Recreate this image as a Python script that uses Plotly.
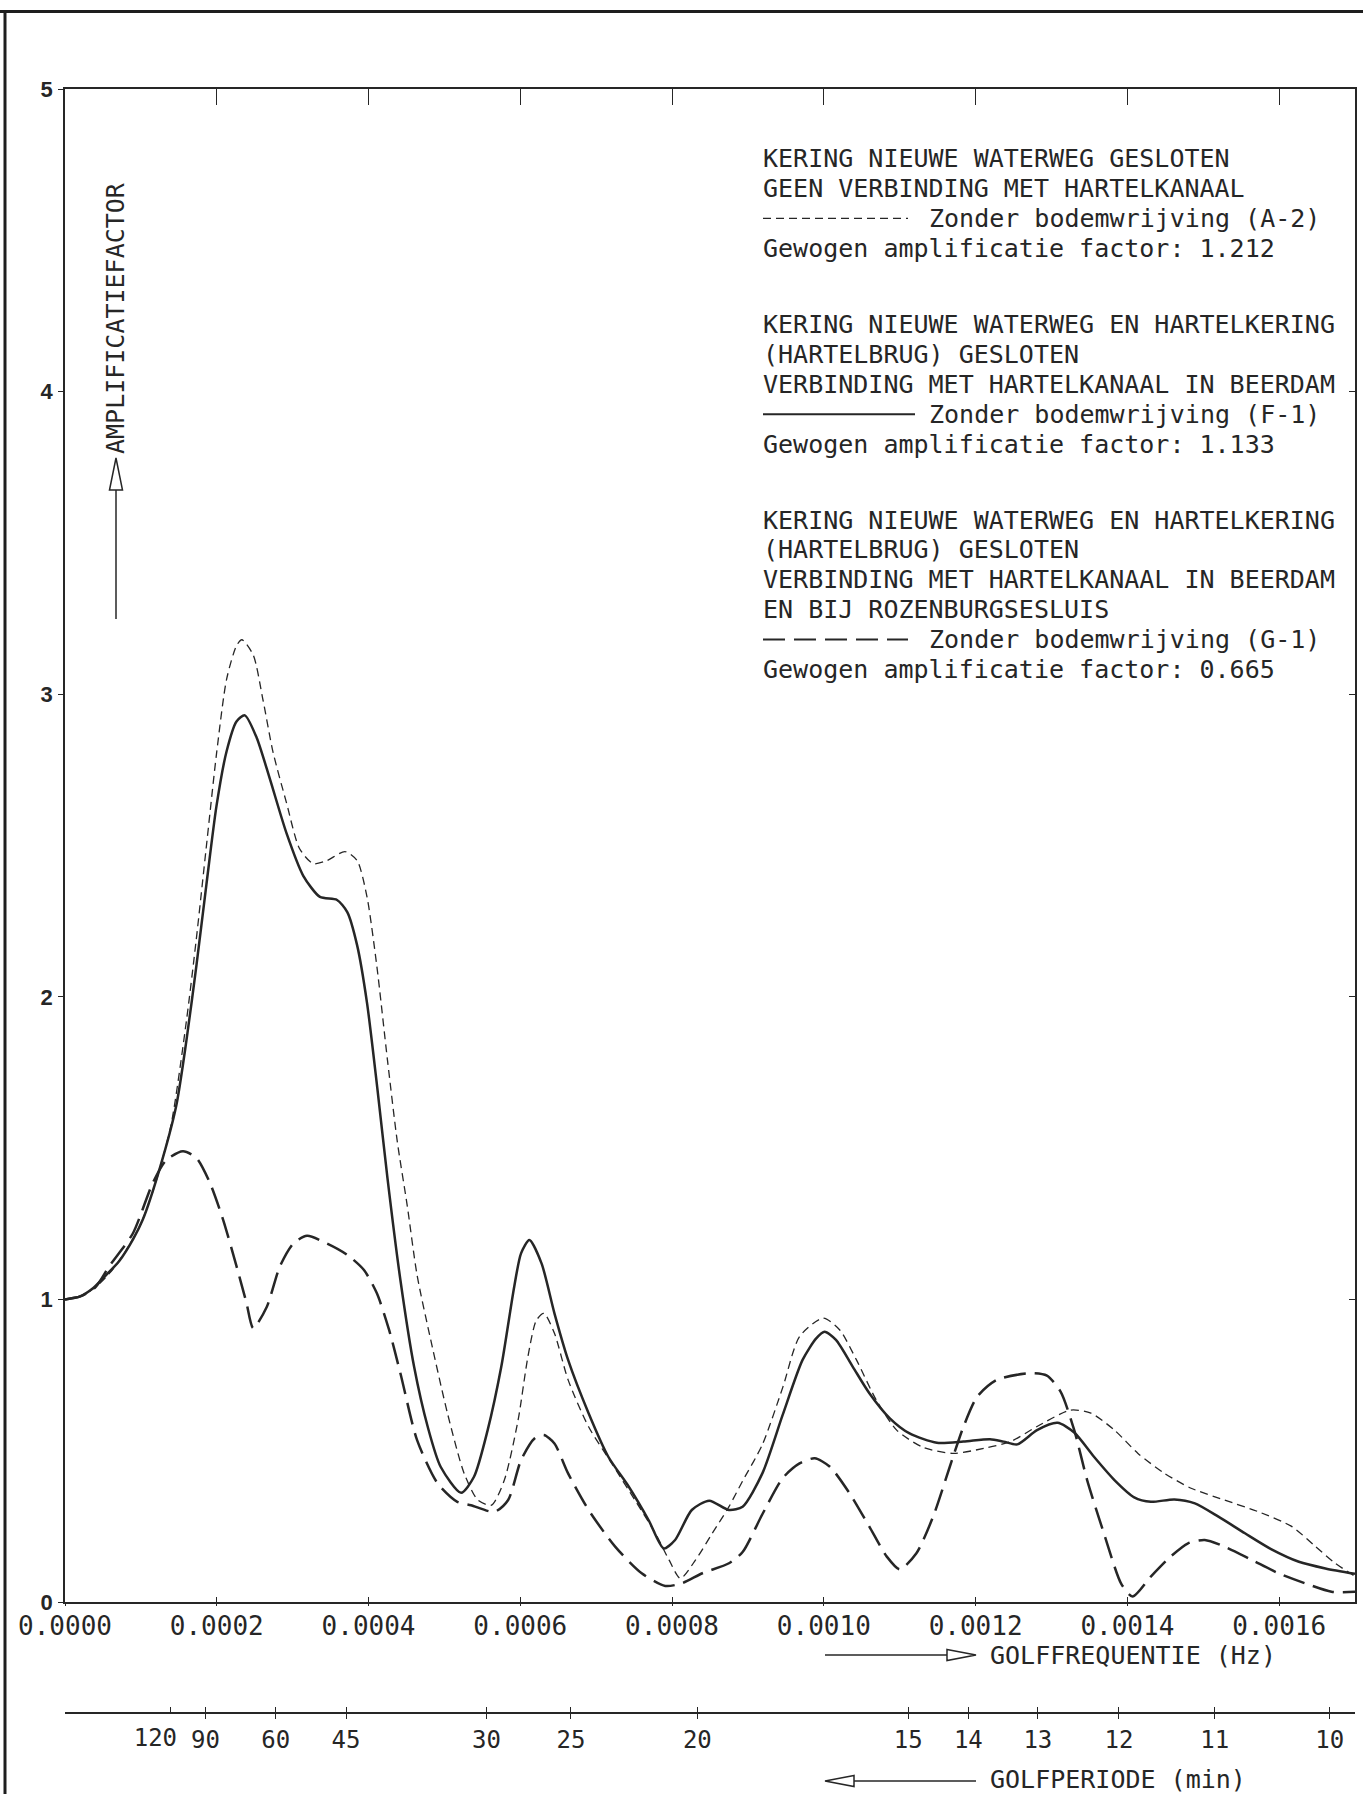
import plotly.graph_objects as go

# ---------------- data ----------------
FREQ_A2 = [0, 0.00002, 0.00004, 0.00006, 0.00008, 0.0001, 0.00012, 0.00014, 0.00016, 0.000173,
           0.000186, 0.0002, 0.000213, 0.000226, 0.000233, 0.000248, 0.000261, 0.000274, 0.000292,
           0.000309, 0.000327, 0.000345, 0.000369, 0.000385, 0.000398, 0.000411, 0.000425, 0.000438,
           0.000451, 0.000464, 0.000482, 0.000504, 0.000526, 0.000544, 0.000562, 0.000579, 0.000597,
           0.00061, 0.000621, 0.000631, 0.000645, 0.000663, 0.00069, 0.00072, 0.000751, 0.000778,
           0.000796, 0.000811, 0.000831, 0.000853, 0.000875, 0.000893, 0.000919, 0.000946, 0.000968,
           0.000999, 0.001021, 0.001043, 0.001069, 0.001096, 0.001131, 0.001171, 0.001211, 0.001246,
           0.001281, 0.001325, 0.001352, 0.001383, 0.001414, 0.001449, 0.001484, 0.001528, 0.001573,
           0.001617, 0.001648, 0.001674, 0.0017]
AMP_A2 = [1.0, 1.01, 1.04, 1.09, 1.16, 1.25, 1.39, 1.58, 1.92, 2.19,
          2.49, 2.81, 3.05, 3.16, 3.18, 3.13, 2.98, 2.81, 2.64,
          2.49, 2.44, 2.45, 2.48, 2.45, 2.33, 2.10, 1.79, 1.52,
          1.31, 1.08, 0.866, 0.624, 0.425, 0.337, 0.32, 0.403, 0.60,
          0.81, 0.93, 0.954, 0.888, 0.734, 0.579, 0.46, 0.337, 0.227,
          0.139, 0.078, 0.139, 0.227, 0.315, 0.40, 0.52, 0.71, 0.877,
          0.938, 0.899, 0.80, 0.668, 0.568, 0.511, 0.491, 0.508, 0.53,
          0.58, 0.634, 0.624, 0.568, 0.491, 0.425, 0.376, 0.337, 0.298,
          0.249, 0.183, 0.128, 0.085]

FREQ_F1 = [0, 0.00002, 0.000036, 0.00005, 0.0000715, 0.00009, 0.0001024, 0.0001245, 0.0001466, 0.00016,
           0.000173, 0.0001863, 0.0001996, 0.0002128, 0.000226, 0.000237, 0.0002526, 0.00027, 0.000292,
           0.000314, 0.000336, 0.0003585, 0.000372, 0.000385, 0.000398, 0.0004115, 0.000425, 0.000442,
           0.00046, 0.000478, 0.000495, 0.000522, 0.000539, 0.000557, 0.000575, 0.000592, 0.000601,
           0.000612, 0.000628, 0.000645, 0.000663, 0.00069, 0.000716, 0.000743, 0.000769, 0.000789,
           0.000804, 0.000826, 0.000849, 0.000875, 0.000893, 0.000919, 0.000946, 0.000972, 0.00099,
           0.001001, 0.001016, 0.001038, 0.00106, 0.001087, 0.001113, 0.001149, 0.001184, 0.001219,
           0.001237, 0.001255, 0.001281, 0.001308, 0.00133, 0.001356, 0.001383, 0.001409, 0.001431,
           0.001462, 0.001489, 0.00152, 0.001555, 0.00159, 0.001626, 0.001661, 0.0017]
AMP_F1 = [1.0, 1.01, 1.035, 1.07, 1.127, 1.20, 1.263, 1.43, 1.64, 1.855,
          2.10, 2.37, 2.63, 2.81, 2.91, 2.93, 2.856, 2.72, 2.54,
          2.40, 2.33, 2.32, 2.28, 2.17, 1.98, 1.70, 1.40, 1.064,
          0.778, 0.579, 0.447, 0.361, 0.414, 0.568, 0.778, 1.042, 1.152,
          1.196, 1.119, 0.954, 0.80, 0.624, 0.48, 0.381, 0.271, 0.177,
          0.205, 0.304, 0.335, 0.304, 0.315, 0.425, 0.62, 0.80, 0.871,
          0.893, 0.866, 0.778, 0.69, 0.607, 0.557, 0.526, 0.53, 0.538,
          0.53, 0.521, 0.568, 0.592, 0.56, 0.48, 0.403, 0.346, 0.331,
          0.339, 0.326, 0.282, 0.227, 0.174, 0.133, 0.111, 0.093]

FREQ_G1 = [0, 0.00002, 0.00004, 0.0000583, 0.0000892, 0.0001157, 0.0001333, 0.0001554, 0.000173,
           0.000191, 0.0002084, 0.000226, 0.000239, 0.000248, 0.000266, 0.000283, 0.000301, 0.000319,
           0.000345, 0.000372, 0.000394, 0.000411, 0.000427, 0.000442, 0.000464, 0.000491, 0.000517,
           0.000535, 0.000566, 0.000584, 0.000601, 0.000619, 0.000631, 0.000645, 0.000663, 0.00069,
           0.000725, 0.00076, 0.000791, 0.000813, 0.00084, 0.000875, 0.000893, 0.000919, 0.000946,
           0.000968, 0.000988, 0.001008, 0.001034, 0.00106, 0.001083, 0.0011, 0.001122, 0.001144,
           0.001166, 0.001184, 0.001202, 0.001228, 0.001272, 0.001294, 0.001312, 0.00133, 0.001347,
           0.00137, 0.001392, 0.001407, 0.001431, 0.001457, 0.00148, 0.001502, 0.001528, 0.001564,
           0.001599, 0.001634, 0.001669, 0.0017]
AMP_G1 = [1.0, 1.01, 1.04, 1.11, 1.217, 1.385, 1.46, 1.49, 1.468,
          1.385, 1.263, 1.11, 0.99, 0.905, 0.976, 1.108, 1.185, 1.21,
          1.185, 1.147, 1.097, 1.02, 0.90, 0.756, 0.535, 0.392, 0.331,
          0.32, 0.298, 0.337, 0.469, 0.541, 0.552, 0.524, 0.425, 0.304,
          0.183, 0.095, 0.053, 0.062, 0.095, 0.128, 0.165, 0.29, 0.41,
          0.458, 0.475, 0.447, 0.359, 0.249, 0.15, 0.108, 0.161, 0.282,
          0.447, 0.579, 0.678, 0.734, 0.756, 0.748, 0.695, 0.568, 0.403,
          0.22, 0.06, 0.018, 0.084, 0.15, 0.194, 0.205, 0.183, 0.139,
          0.095, 0.062, 0.034, 0.034]

FREQ_TICKS = [0.0, 0.0002, 0.0004, 0.0006, 0.0008, 0.0010, 0.0012, 0.0014, 0.0016]
Y_TICKS = [0, 1, 2, 3, 4, 5]
PERIOD_MIN = [120, 90, 60, 45, 30, 25, 20, 15, 14, 13, 12, 11, 10]
PERIOD_LABELS = ["120", "90", "60", "45", "30", "25", "20", "15", "14", "13", "12", "11", "10"]
SHIFTED_PERIOD = 120   # this label is printed a little left of its tick in the reference

LEGEND_GROUPS = [
    (["KERING NIEUWE WATERWEG GESLOTEN",
      "GEEN VERBINDING MET HARTELKANAAL",
      "Zonder bodemwrijving (A-2)",
      "Gewogen amplificatie factor: 1.212"], 2, "A2"),
    (["KERING NIEUWE WATERWEG EN HARTELKERING",
      "(HARTELBRUG) GESLOTEN",
      "VERBINDING MET HARTELKANAAL IN BEERDAM",
      "Zonder bodemwrijving (F-1)",
      "Gewogen amplificatie factor: 1.133"], 3, "F1"),
    (["KERING NIEUWE WATERWEG EN HARTELKERING",
      "(HARTELBRUG) GESLOTEN",
      "VERBINDING MET HARTELKANAAL IN BEERDAM",
      "EN BIJ ROZENBURGSESLUIS",
      "Zonder bodemwrijving (G-1)",
      "Gewogen amplificatie factor: 0.665"], 4, "G1"),
]

Y_TITLE = "AMPLIFICATIEFACTOR"
X_TITLE = "GOLFFREQUENTIE (Hz)"
P_TITLE = "GOLFPERIODE (min)"

# ---------------- geometry / style ----------------
W, H = 1363, 1794
ML, MR, MT, MB = 65, 8, 89, 81
Y_DOMAIN_BOTTOM = (H - MB - 1602) / (H - MT - MB)
INK = "#262626"
MONO = "DejaVu Sans Mono"

STYLES = {
    "A2": dict(color=INK, width=1.3, dash="8px,5px"),
    "F1": dict(color=INK, width=2.5, dash="solid"),
    "G1": dict(color=INK, width=2.5, dash="22px,9px"),
}


def px(xp):
    return (xp - ML) / (W - ML - MR)


def py(yp):
    return (H - MB - yp) / (H - MT - MB)


fig = go.Figure()
for fx, fy, key in [(FREQ_A2, AMP_A2, "A2"), (FREQ_F1, AMP_F1, "F1"), (FREQ_G1, AMP_G1, "G1")]:
    st = STYLES[key]
    fig.add_trace(go.Scatter(x=fx, y=fy, mode="lines", showlegend=False, hoverinfo="skip",
                             line=dict(color=st["color"], width=st["width"], dash=st["dash"],
                                       shape="spline", smoothing=0.7)))

# dummy traces so the decorative overlay axes exist
for xa, ya in [("x2", "y"), ("x3", "y"), ("x4", "y"), ("x5", "y"), ("x6", "y"), ("x", "y2")]:
    fig.add_trace(go.Scatter(x=[None], y=[None], xaxis=xa, yaxis=ya, showlegend=False,
                             hoverinfo="skip", mode="lines"))

XR = [0, 0.0017]
PERIOD_FREQ = [1.0 / (t * 60.0) for t in PERIOD_MIN]
main_idx = [i for i, t in enumerate(PERIOD_MIN) if t != SHIFTED_PERIOD]
shift_idx = [i for i, t in enumerate(PERIOD_MIN) if t == SHIFTED_PERIOD]

common_x = dict(range=XR, showgrid=False, zeroline=False, linecolor=INK, tickcolor=INK,
                linewidth=1.5, tickwidth=1.4)
period_font = dict(family=MONO, size=24, color=INK)

fig.update_layout(
    width=W, height=H,
    margin=dict(l=ML, r=MR, t=MT, b=MB, pad=0),
    paper_bgcolor="white", plot_bgcolor="white",
    showlegend=False,
    xaxis=dict(**common_x, domain=[0, 1], anchor="y", tickvals=FREQ_TICKS, tickformat=".4f",
               ticks="inside", ticklen=5, showline=True, tickangle=0,
               tickfont=dict(family=MONO, size=26, color=INK), ticklabelstandoff=0),
    xaxis2=dict(**common_x, overlaying="x", anchor="y", side="top", tickvals=FREQ_TICKS,
                ticks="inside", ticklen=16, showline=True, showticklabels=False),
    xaxis3=dict(**common_x, overlaying="x", anchor="y", side="bottom", tickvals=FREQ_TICKS,
                ticks="outside", ticklen=3, showline=False, showticklabels=False),
    xaxis4=dict(**common_x, overlaying="x", anchor="free", position=0, side="bottom",
                tickvals=PERIOD_FREQ, ticktext=[""] * len(PERIOD_FREQ), ticks="inside",
                ticklen=5, showline=True, tickangle=0, tickfont=period_font,
                ticklabelstandoff=3),
    xaxis5=dict(**common_x, overlaying="x", anchor="free", position=0, side="bottom",
                tickvals=[PERIOD_FREQ[i] for i in main_idx],
                ticktext=[PERIOD_LABELS[i] for i in main_idx],
                ticks="outside", ticklen=5, showline=False, tickangle=0, tickfont=period_font,
                ticklabelstandoff=0),
    xaxis6=dict(**common_x, overlaying="x", anchor="free", position=0, side="bottom",
                tickvals=[PERIOD_FREQ[i] for i in shift_idx],
                ticktext=[PERIOD_LABELS[i] for i in shift_idx],
                ticks="", showline=False, tickangle=0, tickfont=period_font,
                ticklabelstandoff=8, ticklabelshift=-15),
    yaxis=dict(domain=[Y_DOMAIN_BOTTOM, 1], anchor="x", range=[0, 5], tickvals=Y_TICKS,
               ticks="outside", ticklen=5, showline=True, linecolor=INK, tickcolor=INK,
               linewidth=1.5, tickwidth=1.4, showgrid=False, zeroline=False,
               tickfont=dict(family="Liberation Sans", size=22, color=INK, weight="bold"),
               ticklabelstandoff=1),
    yaxis2=dict(overlaying="y", anchor="x", side="right", range=[0, 5], tickvals=Y_TICKS,
                ticks="inside", ticklen=6, showline=True, linecolor=INK, tickcolor=INK,
                linewidth=1.5, tickwidth=1.4, showgrid=False, zeroline=False,
                showticklabels=False),
)

annotations = []
shapes = []

# legend block
GROUP_START = [158.6, 324.6, 520.0]
LINE_H = 29.9
TEXT_X = 761
for (lines, sample_idx, key), y0 in zip(LEGEND_GROUPS, GROUP_START):
    for i, line in enumerate(lines):
        yc = y0 + i * LINE_H
        x_text = TEXT_X
        if i == sample_idx:
            x_text = 927
            st = STYLES[key]
            x_end = 915 if key == "F1" else 908
            shapes.append(dict(type="line", xref="paper", yref="paper",
                               x0=px(TEXT_X + 2), x1=px(x_end), y0=py(yc), y1=py(yc),
                               line=dict(color=st["color"], width=min(st["width"], 2.0),
                                         dash=st["dash"])))
        annotations.append(dict(text=line, xref="paper", yref="paper", x=px(x_text), y=py(yc),
                                xanchor="left", yanchor="middle", showarrow=False,
                                font=dict(family=MONO, size=25, color=INK)))

# axis titles
annotations.append(dict(text=Y_TITLE, xref="paper", yref="paper", x=px(115), y=py(318),
                        textangle=-90, showarrow=False, xanchor="center", yanchor="middle",
                        font=dict(family=MONO, size=25, color=INK)))
annotations.append(dict(text=X_TITLE, xref="paper", yref="paper", x=px(988), y=py(1655),
                        xanchor="left", yanchor="middle", showarrow=False,
                        font=dict(family=MONO, size=25, color=INK)))
annotations.append(dict(text=P_TITLE, xref="paper", yref="paper", x=px(988), y=py(1779),
                        xanchor="left", yanchor="middle", showarrow=False,
                        font=dict(family=MONO, size=25, color=INK)))

arrow_line = dict(color=INK, width=1.5)


def pth(points):
    return "M " + " L ".join(f"{px(a):.5f},{py(b):.5f}" for a, b in points) + " Z"


# frequency arrow (pointing right)
shapes.append(dict(type="line", xref="paper", yref="paper", x0=px(825), x1=px(947),
                   y0=py(1655), y1=py(1655), line=arrow_line))
shapes.append(dict(type="path", xref="paper", yref="paper",
                   path=pth([(947, 1649.5), (976, 1655), (947, 1660.5)]),
                   line=arrow_line, fillcolor="white"))
# period arrow (pointing left)
shapes.append(dict(type="line", xref="paper", yref="paper", x0=px(854), x1=px(976),
                   y0=py(1781), y1=py(1781), line=arrow_line))
shapes.append(dict(type="path", xref="paper", yref="paper",
                   path=pth([(854, 1775.5), (825, 1781), (854, 1786.5)]),
                   line=arrow_line, fillcolor="white"))
# amplification arrow (pointing up)
shapes.append(dict(type="line", xref="paper", yref="paper", x0=px(116), x1=px(116),
                   y0=py(619), y1=py(490), line=arrow_line))
shapes.append(dict(type="path", xref="paper", yref="paper",
                   path=pth([(109.5, 490), (116, 458), (122.5, 490)]),
                   line=arrow_line, fillcolor="white"))

# outer frame (top and left)
frame = dict(color="#1e1e1e", width=3)
shapes.append(dict(type="line", xref="paper", yref="paper", x0=px(0), x1=px(W),
                   y0=py(11.5), y1=py(11.5), line=frame))
shapes.append(dict(type="line", xref="paper", yref="paper", x0=px(5), x1=px(5),
                   y0=py(10), y1=py(H), line=frame))

fig.update_layout(annotations=annotations, shapes=shapes)

fig.write_html("out.html", config={"displayModeBar": False},
               post_script="document.body.style.margin='0';document.body.style.overflow='hidden';")
